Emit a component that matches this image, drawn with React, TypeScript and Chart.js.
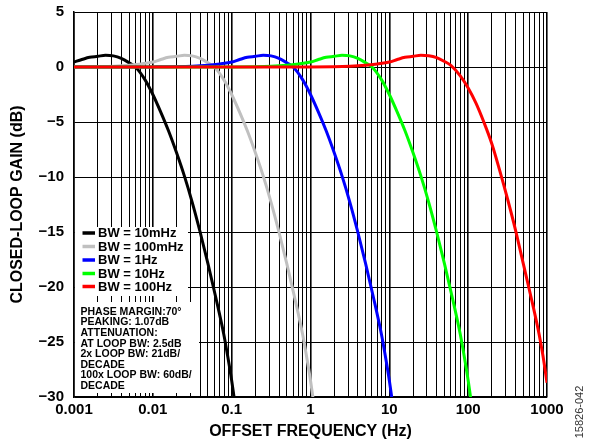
import React, { useEffect, useRef } from 'react';
import { Chart, registerables } from 'chart.js';

Chart.register(...registerables);

const FONT = '"Liberation Sans", Arial, Helvetica, sans-serif';

// ---- data (frequency in Hz, closed-loop gain in dB) ----
const bw10mHzFreq = [0.001, 0.00126, 0.00158, 0.002, 0.00251, 0.00316, 0.00398, 0.00501, 0.00603, 0.00794, 0.01, 0.0126, 0.0158, 0.02, 0.0251, 0.0316, 0.0398, 0.0501, 0.0631, 0.0794, 0.0891, 0.1, 0.112];
const bw10mHzGain = [0.45, 0.68, 0.88, 0.97, 1.07, 1.01, 0.78, 0.38, 0.0, -1.15, -2.5, -4.1, -5.8, -7.8, -9.9, -12.3, -15.0, -17.9, -21.0, -24.3, -26.3, -28.5, -31.0];

const bw100mHzFreq = [0.001, 0.00316, 0.00501, 0.00708, 0.01, 0.0126, 0.0158, 0.02, 0.0251, 0.0316, 0.0398, 0.0501, 0.0603, 0.0794, 0.1, 0.126, 0.158, 0.2, 0.251, 0.316, 0.398, 0.501, 0.631, 0.794, 0.891, 1.0, 1.12];
const bw100mHzGain = [0.01, 0.06, 0.15, 0.28, 0.45, 0.68, 0.88, 0.97, 1.07, 1.01, 0.78, 0.38, 0.0, -1.15, -2.5, -4.1, -5.8, -7.8, -9.9, -12.3, -15.0, -17.9, -21.0, -24.3, -26.3, -28.5, -31.0];

const bw1HzFreq = [0.001, 0.01, 0.0316, 0.0501, 0.0708, 0.1, 0.126, 0.158, 0.2, 0.251, 0.316, 0.398, 0.501, 0.603, 0.794, 1.0, 1.26, 1.58, 2.0, 2.51, 3.16, 3.98, 5.01, 6.31, 7.94, 8.91, 10, 11.2];
const bw1HzGain = [0.0, 0.01, 0.06, 0.15, 0.28, 0.45, 0.68, 0.88, 0.97, 1.07, 1.01, 0.78, 0.38, 0.0, -1.15, -2.5, -4.1, -5.8, -7.8, -9.9, -12.3, -15.0, -17.9, -21.0, -24.3, -26.3, -28.5, -31.0];

const bw10HzFreq = [0.001, 0.1, 0.316, 0.501, 0.708, 1.0, 1.26, 1.58, 2.0, 2.51, 3.16, 3.98, 5.01, 6.03, 7.94, 10, 12.6, 15.8, 20, 25.1, 31.6, 39.8, 50.1, 63.1, 79.4, 89.1, 100, 112];
const bw10HzGain = [0.0, 0.01, 0.06, 0.15, 0.28, 0.45, 0.68, 0.88, 0.97, 1.07, 1.01, 0.78, 0.38, 0.0, -1.15, -2.5, -4.1, -5.8, -7.8, -9.9, -12.3, -15.0, -17.9, -21.0, -24.3, -26.3, -28.5, -31.0];

const bw100HzFreq = [0.001, 1.0, 3.16, 5.01, 7.08, 10, 12.6, 15.8, 20, 25.1, 31.6, 39.8, 50.1, 60.3, 79.4, 100, 126, 158, 200, 251, 316, 398, 501, 631, 794, 891, 1000];
const bw100HzGain = [0.0, 0.01, 0.06, 0.15, 0.28, 0.45, 0.68, 0.88, 0.97, 1.07, 1.03, 0.85, 0.5, 0.15, -0.8, -1.9, -3.3, -5.0, -7.0, -9.4, -12.0, -14.8, -17.9, -21.0, -24.3, -26.3, -28.7];

const seriesLabels = ['BW = 10mHz', 'BW = 100mHz', 'BW = 1Hz', 'BW = 10Hz', 'BW = 100Hz'];
const seriesColors = ['#000000', '#c0c0c0', '#0000ff', '#00ff00', '#ff0000'];

const xDecades = [0.001, 0.01, 0.1, 1, 10, 100, 1000];
const xTickLabels = ['0.001', '0.01', '0.1', '1', '10', '100', '1000'];
const xMinorMultipliers = [2, 3, 4, 5, 6, 7, 8, 9];
const yTicks = [5, 0, -5, -10, -15, -20, -25, -30];

const annotationLines = [
  'PHASE MARGIN:70°',
  'PEAKING: 1.07dB',
  'ATTENUATION:',
  'AT LOOP BW: 2.5dB',
  '2x LOOP BW: 21dB/',
  'DECADE',
  '100x LOOP BW: 60dB/',
  'DECADE',
];

const xTitle = 'OFFSET FREQUENCY (Hz)';
const yTitle = 'CLOSED-LOOP GAIN (dB)';
const figureCode = '15826-042';

function pts(f: number[], g: number[]) {
  return f.map((x, i) => ({ x, y: g[i] }));
}

const gridValues: number[] = [];
xDecades.forEach((d, i) => {
  gridValues.push(d);
  if (i < xDecades.length - 1) xMinorMultipliers.forEach((m) => gridValues.push(d * m));
});

const overlayPlugin = {
  id: 'overlay',
  beforeDatasetsDraw(chart: any) {
    const ctx = chart.ctx;
    const a = chart.chartArea;
    ctx.save();
    ctx.fillStyle = '#ffffff';
    ctx.fillRect(a.left + 1, 227, 188 - a.left - 1, 296 - 227);
    ctx.fillRect(a.left + 1, 302, 199 - a.left - 1, 393 - 302);
    ctx.restore();
  },
  afterDatasetsDraw(chart: any) {
    const ctx = chart.ctx;
    ctx.save();
    const rows = [233, 246.5, 260, 273.5, 286.5];
    ctx.font = `bold 13px ${FONT}`;
    ctx.textBaseline = 'middle';
    ctx.textAlign = 'left';
    seriesLabels.forEach((lab, i) => {
      ctx.strokeStyle = seriesColors[i];
      ctx.lineWidth = 3.5;
      ctx.beginPath();
      ctx.moveTo(82.5, rows[i]);
      ctx.lineTo(95, rows[i]);
      ctx.stroke();
      ctx.fillStyle = '#000';
      ctx.fillText(lab, 98, rows[i] + 0.5);
    });
    ctx.font = `bold 10.5px ${FONT}`;
    annotationLines.forEach((t, i) => {
      ctx.fillText(t, 80.5, 312 + i * 10.6);
    });
    ctx.restore();
  },
  afterDraw(chart: any) {
    const ctx = chart.ctx;
    const a = chart.chartArea;
    ctx.save();
    ctx.fillStyle = '#000';
    ctx.font = `bold 16px ${FONT}`;
    ctx.textAlign = 'center';
    ctx.textBaseline = 'middle';
    ctx.fillText(xTitle, (a.left + a.right) / 2, 432);
    ctx.save();
    ctx.translate(18, (a.top + a.bottom) / 2);
    ctx.rotate(-Math.PI / 2);
    ctx.fillText(yTitle, 0, 0);
    ctx.restore();
    ctx.save();
    ctx.font = `11px ${FONT}`;
    ctx.fillStyle = '#333';
    ctx.translate(580, 412);
    ctx.rotate(-Math.PI / 2);
    ctx.fillText(figureCode, 0, 0);
    ctx.restore();
    ctx.restore();
  },
};

export default function App() {
  const ref = useRef<HTMLCanvasElement>(null);
  useEffect(() => {
    const series = [
      pts(bw10mHzFreq, bw10mHzGain),
      pts(bw100mHzFreq, bw100mHzGain),
      pts(bw1HzFreq, bw1HzGain),
      pts(bw10HzFreq, bw10HzGain),
      pts(bw100HzFreq, bw100HzGain),
    ];
    const order = [4, 3, 2, 1, 0];
    const datasets = order.map((i) => ({
      label: seriesLabels[i],
      data: series[i],
      borderColor: seriesColors[i],
      backgroundColor: seriesColors[i],
      borderWidth: 3,
      pointRadius: 0,
      fill: false,
      cubicInterpolationMode: 'monotone' as const,
    }));
    const chart = new Chart(ref.current!, {
      type: 'line',
      data: { datasets },
      plugins: [overlayPlugin],
      options: {
        animation: false,
        responsive: false,
        layout: { padding: { top: 12, right: 43, left: 0, bottom: 0 } },
        plugins: { legend: { display: false }, tooltip: { enabled: false } },
        scales: {
          x: {
            type: 'logarithmic',
            min: 0.001,
            max: 1000,
            afterBuildTicks: (s: any) => {
              s.ticks = gridValues.map((v) => ({ value: v, major: xDecades.includes(v) }));
            },
            afterFit: (s: any) => {
              s.height = 47;
              s.paddingLeft = 0;
              s.paddingRight = 0;
            },
            ticks: {
              autoSkip: false,
              maxRotation: 0,
              minRotation: 0,
              padding: 4,
              color: '#000',
              font: { family: FONT, weight: 'bold', size: 15 },
              callback: (v: any) => {
                const idx = xDecades.indexOf(Number(v));
                return idx >= 0 ? xTickLabels[idx] : '';
              },
            },
            grid: {
              color: '#000',
              drawTicks: false,
              lineWidth: (c: any) => (c.tick && xDecades.includes(c.tick.value) ? 1.6 : 1),
            },
            border: { color: '#000', width: 1.5 },
          },
          y: {
            type: 'linear',
            min: -30,
            max: 5,
            afterBuildTicks: (s: any) => {
              s.ticks = yTicks.map((v) => ({ value: v }));
            },
            afterFit: (s: any) => {
              s.width = 74;
              s.paddingTop = 0;
              s.paddingBottom = 0;
            },
            ticks: {
              padding: 10,
              color: '#000',
              font: { family: FONT, weight: 'bold', size: 15 },
              callback: (v: any) => (Number(v) < 0 ? '\u2212' + Math.abs(Number(v)) : String(v)),
            },
            grid: { color: '#000', lineWidth: 1, drawTicks: false },
            border: { color: '#000', width: 1.5 },
          },
        },
      },
    });
    return () => chart.destroy();
  }, []);
  return (
    <div style={{ position: 'absolute', left: 0, top: 0, width: 590, height: 444, background: '#fff' }}>
      <canvas ref={ref} width={590} height={444} style={{ display: 'block' }} />
    </div>
  );
}
